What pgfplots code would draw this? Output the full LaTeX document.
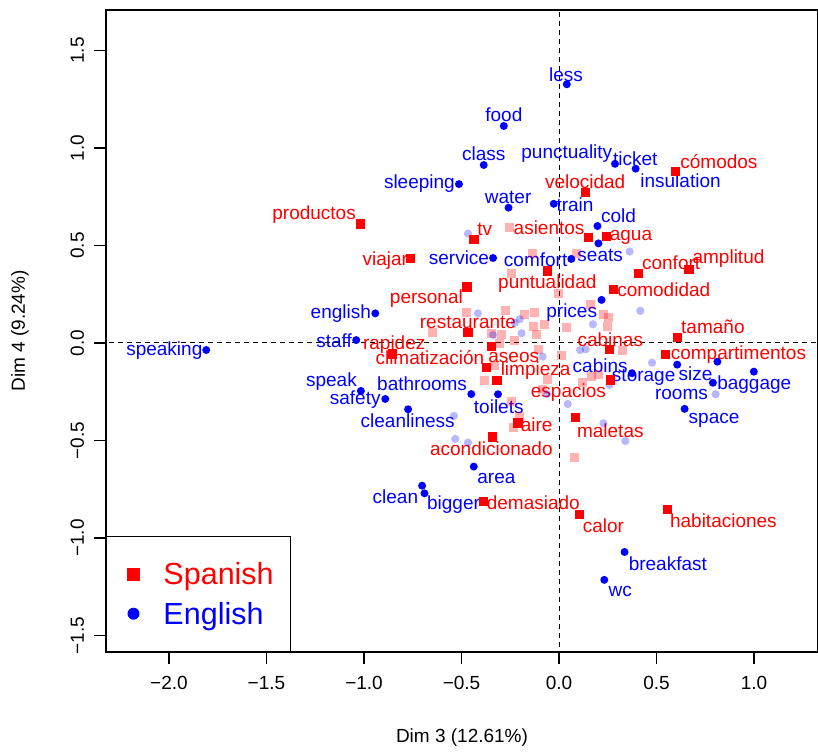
\documentclass[border=0pt]{standalone}
\usepackage{fontspec}
\setmainfont{Liberation Sans}
\usepackage{pgfplots}
\pgfplotsset{compat=1.18}
\usepackage{pgfplotstable}
\definecolor{rred}{RGB}{255,0,0}
\definecolor{rblue}{RGB}{0,0,255}
\newcommand\lfont{\fontsize{19bp}{23bp}\selectfont}
\newcommand\lab[4]{\node[text=#1, anchor=base, inner sep=0pt, font=\lfont] at (axis cs:#2,#3) {#4};}

\pgfplotstableread{
x y
-1.016 0.610
-0.761 0.434
-0.436 0.532
0.137 0.773
0.599 0.881
0.151 0.542
0.245 0.547
-0.060 0.369
-0.472 0.287
0.280 0.275
0.408 0.357
0.666 0.378
0.609 0.029
0.259 -0.032
0.547 -0.058
-0.467 0.055
-0.347 -0.017
-0.853 -0.056
-0.373 -0.125
-0.318 -0.192
0.263 -0.190
-0.210 -0.410
-0.343 -0.482
0.083 -0.384
-0.388 -0.812
0.105 -0.881
0.555 -0.853
}\spanish

\pgfplotstableread{
x y
0.040 1.327
-0.283 1.113
-0.386 0.913
-0.513 0.815
0.287 0.919
0.393 0.894
-0.259 0.694
-0.027 0.714
0.197 0.600
0.202 0.511
-0.338 0.436
0.063 0.431
0.218 0.221
-0.942 0.152
-1.040 0.015
-1.809 -0.036
-1.016 -0.246
-0.891 -0.287
-0.450 -0.262
-0.313 -0.263
-0.774 -0.340
0.374 -0.155
0.606 -0.111
0.812 -0.096
0.999 -0.147
0.789 -0.204
0.644 -0.338
-0.437 -0.634
-0.702 -0.732
-0.690 -0.771
0.336 -1.072
0.232 -1.215
}\english

\pgfplotstableread{
x y
-0.256 0.593
-0.137 0.460
0.088 0.460
-0.246 0.354
-0.004 0.255
0.228 0.147
0.254 0.130
0.249 0.084
0.323 -0.039
-0.475 0.157
-0.273 0.169
-0.175 0.144
-0.124 0.155
-0.077 0.097
-0.129 0.084
0.036 0.078
0.160 0.195
-0.647 0.055
-0.347 0.050
-0.295 0.041
-0.118 0.046
-0.230 0.015
-0.304 -0.002
-0.107 -0.032
0.014 -0.062
-0.330 -0.113
-0.381 -0.193
-0.060 -0.186
0.122 -0.204
0.168 -0.173
0.202 -0.164
-0.242 -0.301
-0.204 -0.378
-0.235 -0.432
0.079 -0.586
-0.084 -0.241
}\spanishfaint

\pgfplotstableread{
x y
-0.467 0.561
0.362 0.469
0.417 0.165
-0.416 0.152
-0.201 0.122
-0.227 0.104
-0.338 0.041
-0.192 0.050
0.174 0.096
0.108 -0.036
0.137 -0.032
0.477 -0.101
-0.060 -0.262
0.045 -0.313
-0.539 -0.374
-0.532 -0.492
-0.467 -0.511
0.228 -0.412
0.340 -0.503
0.259 -0.215
0.803 -0.263
-0.084 -0.070
}\englishfaint

\begin{document}
\begin{tikzpicture}
\begin{axis}[
  scale only axis,
  width=712bp, height=642bp,
  xmin=-2.323, xmax=1.328,
  ymin=-1.585, ymax=1.708,
  axis line style={line width=1.2bp},
  tick style={line width=1.2bp, black},
  tick align=outside,
  major tick length=12bp,
  xtick pos=bottom, ytick pos=left,
  xtick={-2,-1.5,-1,-0.5,0,0.5,1},
  xticklabels={−2.0,−1.5,−1.0,−0.5,0.0,0.5,1.0},
  ytick={-1.5,-1,-0.5,0,0.5,1,1.5},
  yticklabels={−1.5,−1.0,−0.5,0.0,0.5,1.0,1.5},
  ticklabel style={font=\lfont},
  xticklabel style={anchor=base, yshift=-25bp},
  yticklabel style={xshift=-10bp, rotate=90, anchor=base},
  xlabel={Dim 3 (12.61\%)},
  ylabel={Dim 4 (9.24\%)},
  label style={font=\lfont},
  xlabel style={at={([yshift=-86bp]axis description cs:0.5,0)}, anchor=center},
  ylabel style={at={([xshift=-86bp]axis description cs:0,0.5)}, anchor=center},
  legend style={at={(rel axis cs:0,0)}, anchor=south west, draw=black, line width=1bp,
    font=\fontsize{30.5bp}{36bp}\selectfont, inner xsep=14bp, inner ysep=23bp,
    nodes={inner sep=3bp}, row sep=9.5bp, fill=white},
  legend cell align=left,
  legend image code/.code={\path[draw=none, fill=none] (0bp,0bp) -- (40bp,0bp); \draw[#1,mark repeat=2,mark phase=2] plot coordinates {(0bp,0bp) (13bp,0bp) (40bp,0bp)};},
]
\addplot[black, line width=1bp, dash pattern=on 5bp off 4bp, forget plot] coordinates {(0,-1.7) (0,1.8)};
\addplot[black, line width=1bp, dash pattern=on 5bp off 4bp, forget plot] coordinates {(-2.4,0) (1.4,0)};

\addplot[only marks, rred, mark=square*, mark size=4.5bp, mark options={fill=rred, fill opacity=0.3, draw opacity=0}, forget plot] table {\spanishfaint};
\addplot[only marks, rblue, mark=*, mark size=4.1bp, mark options={fill=rblue, fill opacity=0.28, draw opacity=0}, forget plot] table {\englishfaint};
\addplot[only marks, rred, mark=square*, mark size=4.6bp, mark options={fill=rred, draw opacity=0}, forget plot] table {\spanish};
\addplot[only marks, rblue, mark=*, mark size=4bp, mark options={fill=rblue, draw opacity=0}, forget plot] table {\english};

\lab{rred}{-1.256}{0.632}{productos}
\lab{rred}{-0.891}{0.400}{viajar}
\lab{rred}{-0.381}{0.549}{tv}
\lab{rred}{0.134}{0.791}{velocidad}
\lab{rred}{0.820}{0.895}{cómodos}
\lab{rred}{-0.051}{0.559}{asientos}
\lab{rred}{0.369}{0.526}{agua}
\lab{rred}{-0.060}{0.281}{puntualidad}
\lab{rred}{-0.680}{0.201}{personal}
\lab{rred}{0.537}{0.238}{comodidad}
\lab{rred}{0.575}{0.375}{confort}
\lab{rred}{0.869}{0.406}{amplitud}
\lab{rred}{0.789}{0.049}{tamaño}
\lab{rred}{0.263}{-0.018}{cabinas}
\lab{rred}{0.920}{-0.086}{compartimentos}
\lab{rred}{-0.467}{0.073}{restaurante}
\lab{rred}{-0.232}{-0.098}{aseos}
\lab{rred}{-0.845}{-0.035}{rapidez}
\lab{rred}{-0.662}{-0.112}{climatización}
\lab{rred}{-0.120}{-0.168}{limpieza}
\lab{rred}{0.048}{-0.279}{espacios}
\lab{rred}{-0.115}{-0.454}{aire}
\lab{rred}{-0.347}{-0.578}{acondicionado}
\lab{rred}{0.263}{-0.483}{maletas}
\lab{rred}{-0.132}{-0.852}{demasiado}
\lab{rred}{0.228}{-0.972}{calor}
\lab{rred}{0.843}{-0.945}{habitaciones}

\lab{rblue}{0.036}{1.341}{less}
\lab{rblue}{-0.283}{1.136}{food}
\lab{rblue}{-0.386}{0.934}{class}
\lab{rblue}{0.040}{0.945}{punctuality}
\lab{rblue}{0.391}{0.909}{ticket}
\lab{rblue}{-0.716}{0.791}{sleeping}
\lab{rblue}{0.623}{0.797}{insulation}
\lab{rblue}{-0.261}{0.717}{water}
\lab{rblue}{0.082}{0.674}{train}
\lab{rblue}{0.305}{0.618}{cold}
\lab{rblue}{-0.513}{0.401}{service}
\lab{rblue}{-0.120}{0.391}{comfort}
\lab{rblue}{0.211}{0.418}{seats}
\lab{rblue}{0.065}{0.132}{prices}
\lab{rblue}{-1.119}{0.124}{english}
\lab{rblue}{-1.153}{-0.023}{staff}
\lab{rblue}{-2.024}{-0.066}{speaking}
\lab{rblue}{-1.167}{-0.223}{speak}
\lab{rblue}{-1.045}{-0.317}{safety}
\lab{rblue}{-0.702}{-0.245}{bathrooms}
\lab{rblue}{-0.776}{-0.433}{cleanliness}
\lab{rblue}{-0.309}{-0.360}{toilets}
\lab{rblue}{0.211}{-0.151}{cabins}
\lab{rblue}{0.434}{-0.197}{storage}
\lab{rblue}{0.700}{-0.192}{size}
\lab{rblue}{0.628}{-0.288}{rooms}
\lab{rblue}{1.001}{-0.237}{baggage}
\lab{rblue}{0.795}{-0.414}{space}
\lab{rblue}{-0.321}{-0.722}{area}
\lab{rblue}{-0.839}{-0.825}{clean}
\lab{rblue}{-0.541}{-0.852}{bigger}
\lab{rblue}{0.558}{-1.167}{breakfast}
\lab{rblue}{0.314}{-1.300}{wc}

\addlegendimage{only marks, rred, mark=square*, mark size=6.5bp, mark options={fill=rred, draw opacity=0}}
\addlegendentry{\textcolor{rred}{Spanish}}
\addlegendimage{only marks, rblue, mark=*, mark size=6bp, mark options={fill=rblue, draw opacity=0}}
\addlegendentry{\textcolor{rblue}{English}}
\end{axis}
\pgfresetboundingbox
\path[use as bounding box] ([shift={(-106bp,-101bp)}]current axis.south west) rectangle ([shift={(0bp,10bp)}]current axis.north east);
\end{tikzpicture}
\end{document}
